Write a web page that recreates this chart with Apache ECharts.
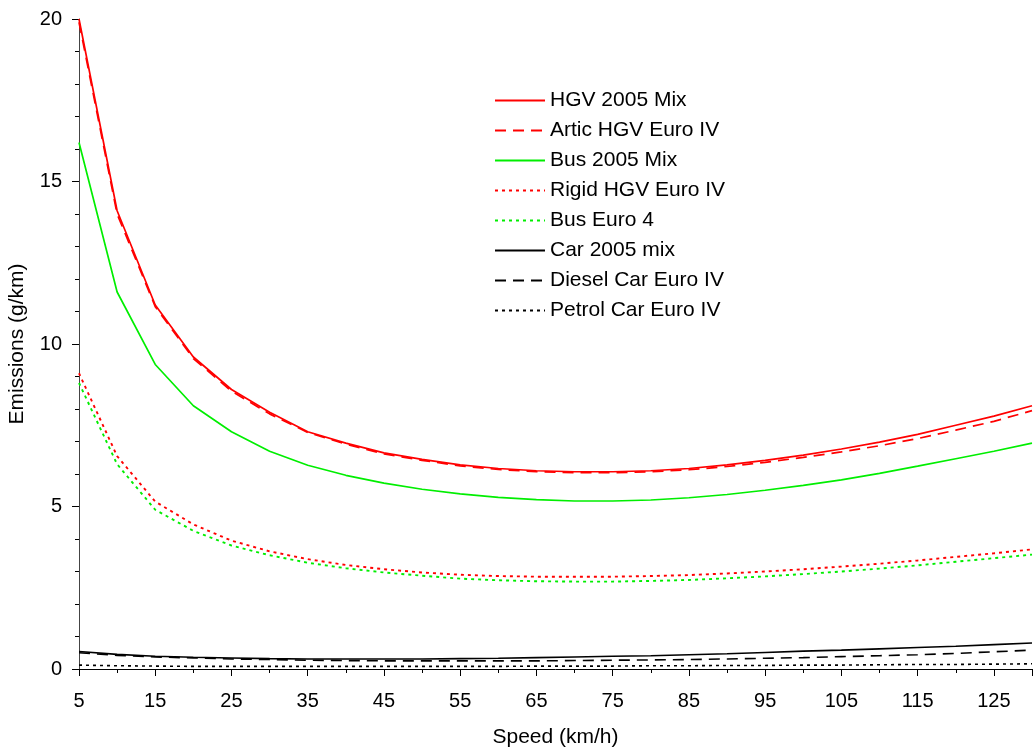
<!DOCTYPE html>
<html>
<head>
<meta charset="utf-8">
<script src="https://cdn.jsdelivr.net/npm/echarts@6/dist/echarts.min.js"></script>
<style>
html,body{margin:0;padding:0;background:#fff;}
#chart{width:1034px;height:751px;}
</style>
</head>
<body>
<div id="chart"></div>
<script>
var speeds = [5,10,15,20,25,30,35,40,45,50,55,60,65,70,75,80,85,90,95,100,105,110,115,120,125,130];
var hgv2005 = [20.0,14.1,11.2,9.6,8.6,7.9,7.3,6.95,6.65,6.45,6.28,6.17,6.1,6.07,6.07,6.1,6.17,6.28,6.42,6.58,6.77,6.98,7.22,7.5,7.78,8.1];
var articHgv = [19.9,14.0,11.15,9.55,8.55,7.85,7.28,6.92,6.62,6.42,6.25,6.14,6.07,6.04,6.04,6.07,6.13,6.23,6.36,6.51,6.68,6.87,7.09,7.35,7.62,7.95];
var bus2005 = [16.2,11.6,9.37,8.1,7.3,6.7,6.27,5.96,5.72,5.53,5.39,5.28,5.21,5.17,5.17,5.2,5.27,5.37,5.5,5.65,5.82,6.02,6.24,6.47,6.7,6.95];
var rigidHgv = [9.1,6.55,5.15,4.45,3.95,3.62,3.38,3.2,3.07,2.97,2.9,2.86,2.84,2.84,2.84,2.86,2.89,2.94,3.0,3.07,3.15,3.24,3.34,3.45,3.56,3.68];
var busEuro4 = [8.8,6.3,4.9,4.25,3.8,3.5,3.27,3.1,2.97,2.87,2.78,2.73,2.7,2.69,2.69,2.71,2.74,2.79,2.85,2.92,3.0,3.09,3.19,3.3,3.41,3.52];
var car2005 = [0.54,0.45,0.39,0.36,0.34,0.32,0.31,0.31,0.31,0.31,0.32,0.33,0.35,0.37,0.39,0.41,0.44,0.47,0.51,0.55,0.58,0.62,0.66,0.7,0.75,0.8];
var dieselCar = [0.5,0.42,0.37,0.34,0.31,0.29,0.27,0.26,0.25,0.25,0.25,0.25,0.25,0.26,0.27,0.28,0.29,0.31,0.33,0.35,0.38,0.41,0.44,0.48,0.53,0.58];
var petrolCar = [0.12,0.1,0.09,0.08,0.08,0.08,0.08,0.08,0.08,0.08,0.08,0.08,0.09,0.09,0.09,0.1,0.1,0.11,0.11,0.12,0.12,0.13,0.14,0.14,0.15,0.16];
var seriesNames = ['HGV 2005 Mix','Artic HGV Euro IV','Bus 2005 Mix','Rigid HGV Euro IV','Bus Euro 4','Car 2005 mix','Diesel Car Euro IV','Petrol Car Euro IV'];

function pairs(arr){ return speeds.map(function(s,i){ return [s, arr[i]]; }); }
var FONT = 'Liberation Sans, Arial, sans-serif';
function mk(name, data, color, type, width){
  return {
    name: name, type: 'line', data: pairs(data), symbol: 'none', smooth: false,
    lineStyle: {color: color, width: width, type: type},
    itemStyle: {color: color},
    emphasis: {disabled: true}, animation: false
  };
}
var chart = echarts.init(document.getElementById('chart'));
chart.setOption({
  backgroundColor: '#fff',
  animation: false,
  grid: {left: 79, top: 19, right: 2, bottom: 82, containLabel: false, outerBoundsMode: 'none'},
  legend: {
    orient: 'vertical', left: 494, top: 90, padding: 0,
    itemWidth: 50, itemHeight: 14, itemGap: 9,
    itemStyle: {opacity: 0, color: 'transparent', borderWidth: 0},
    textStyle: {fontFamily: FONT, fontSize: 21, color: '#000', padding: [0,0,0,0]},
    data: seriesNames
  },
  xAxis: {
    type: 'value', min: 5, max: 130, interval: 10,
    name: 'Speed (km/h)', nameLocation: 'middle', nameGap: 58,
    nameTextStyle: {fontFamily: FONT, fontSize: 21, color: '#000'},
    axisLine: {lineStyle: {color: '#000', width: 1}},
    axisTick: {show: true, length: 7, lineStyle: {color: '#000'}},
    minorTick: {show: true, splitNumber: 2, length: 4, lineStyle: {color: '#000'}},
    axisLabel: {fontFamily: FONT, fontSize: 20, color: '#000', margin: 22, showMaxLabel: false,
      formatter: function(v){ return v === 130 ? '' : String(v); }},
    splitLine: {show: false}
  },
  yAxis: {
    type: 'value', min: 0, max: 20, interval: 5,
    name: 'Emissions (g/km)', nameLocation: 'middle', nameGap: 51,
    nameTextStyle: {fontFamily: FONT, fontSize: 21, color: '#000'},
    axisLine: {show: true, lineStyle: {color: '#444', width: 1}},
    axisTick: {show: true, length: 7, lineStyle: {color: '#000'}},
    minorTick: {show: true, splitNumber: 5, length: 4, lineStyle: {color: '#000'}},
    axisLabel: {fontFamily: FONT, fontSize: 20, color: '#000', margin: 17},
    splitLine: {show: false}
  },
  series: [
    mk(seriesNames[0], hgv2005, '#ff0000', 'solid', 1.7),
    mk(seriesNames[1], articHgv, '#ff0000', [11,7], 1.7),
    mk(seriesNames[2], bus2005, '#00ee00', 'solid', 1.7),
    mk(seriesNames[3], rigidHgv, '#ff0000', [3,4], 1.9),
    mk(seriesNames[4], busEuro4, '#00ee00', [3,4], 1.9),
    mk(seriesNames[5], car2005, '#000000', 'solid', 1.6),
    mk(seriesNames[6], dieselCar, '#000000', [11,7], 1.6),
    mk(seriesNames[7], petrolCar, '#000000', [3,4], 1.6)
  ]
});
</script>
</body>
</html>
